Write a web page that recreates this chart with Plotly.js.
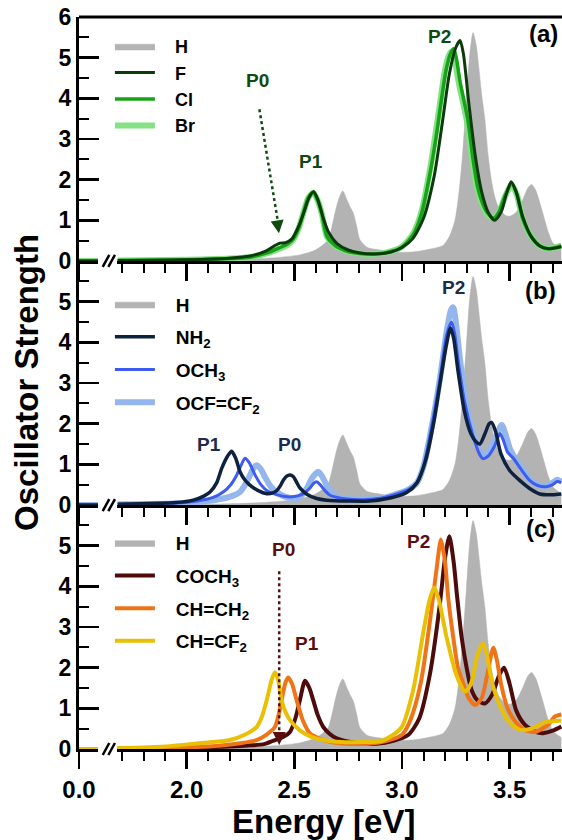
<!DOCTYPE html>
<html><head><meta charset="utf-8">
<script src="https://cdn.plot.ly/plotly-3.0.1.min.js"></script>
<style>html,body{margin:0;padding:0;background:#fff;overflow:hidden}#plot{width:562px;height:840px}</style>
</head><body><div id="plot"></div>
<script>
// ---------- data (energy in eV, oscillator strength) ----------
const hE = [1.68,2.0,2.2,2.35,2.45,2.526,2.59,2.63,2.657,2.675,2.689,2.705,2.725,2.745,2.76,2.774,2.79,2.805,2.84,2.898,2.95,3.05,3.12,3.19,3.22,3.246,3.265,3.282,3.30,3.315,3.33,3.345,3.36,3.37,3.385,3.40,3.415,3.43,3.45,3.48,3.50,3.53,3.56,3.585,3.602,3.62,3.65,3.68,3.70,3.74];
const hS = [0,0.01,0.03,0.06,0.1,0.15,0.25,0.38,0.52,0.85,1.18,1.5,1.72,1.5,1.32,1.18,0.85,0.52,0.33,0.27,0.22,0.22,0.28,0.38,0.6,1.0,1.7,2.67,4.0,5.1,5.62,5.3,4.6,4.1,3.48,2.6,2.0,1.6,1.3,1.12,1.1,1.2,1.5,1.8,1.88,1.75,1.25,0.7,0.45,0.28];

const fE = [1.68,2.0,2.2,2.3,2.37,2.41,2.434,2.46,2.49,2.52,2.545,2.568,2.59,2.61,2.635,2.66,2.70,2.75,2.80,2.87,2.95,3.00,3.05,3.10,3.15,3.19,3.22,3.25,3.27,3.285,3.31,3.34,3.37,3.40,3.43,3.46,3.485,3.507,3.53,3.56,3.60,3.64,3.68,3.74];
const fS = [0.01,0.03,0.07,0.13,0.25,0.38,0.44,0.45,0.55,0.85,1.2,1.55,1.7,1.5,1.05,0.7,0.42,0.27,0.2,0.17,0.22,0.33,0.55,1.05,2.1,3.5,4.6,5.25,5.42,5.1,3.9,2.6,1.7,1.2,1.0,1.2,1.65,1.95,1.7,1.1,0.6,0.37,0.3,0.35];

const clE = [1.68,2.0,2.2,2.3,2.38,2.43,2.47,2.495,2.52,2.542,2.565,2.588,2.608,2.627,2.652,2.69,2.73,2.78,2.85,2.93,3.00,3.053,3.09,3.13,3.16,3.18,3.205,3.225,3.24,3.252,3.27,3.305,3.33,3.35,3.372,3.395,3.425,3.45,3.48,3.509,3.535,3.56,3.60,3.64,3.68,3.74];
const clS = [0.01,0.03,0.06,0.1,0.21,0.32,0.42,0.54,0.8,1.18,1.55,1.69,1.5,1.18,0.6,0.38,0.27,0.2,0.17,0.21,0.34,0.65,1.15,2.15,3.1,3.85,4.7,5.1,5.22,5.0,4.4,3.5,2.5,1.85,1.45,1.2,1.05,1.2,1.62,1.9,1.62,1.05,0.6,0.37,0.3,0.37];

const brE = [1.68,2.0,2.2,2.3,2.38,2.43,2.47,2.495,2.52,2.542,2.565,2.588,2.608,2.627,2.652,2.69,2.73,2.78,2.85,2.93,3.00,3.053,3.09,3.13,3.155,3.176,3.20,3.22,3.232,3.245,3.265,3.30,3.325,3.347,3.37,3.393,3.424,3.45,3.48,3.509,3.535,3.56,3.60,3.64,3.68,3.74];
const brS = [0.01,0.03,0.06,0.1,0.2,0.3,0.4,0.52,0.8,1.18,1.55,1.68,1.5,1.18,0.6,0.38,0.27,0.2,0.17,0.21,0.35,0.68,1.2,2.25,3.1,3.85,4.7,5.08,5.15,4.95,4.35,3.48,2.5,1.83,1.42,1.18,1.05,1.2,1.6,1.88,1.6,1.05,0.6,0.37,0.3,0.38];

const nh2E = [1.68,1.95,2.03,2.08,2.109,2.14,2.163,2.19,2.209,2.228,2.248,2.27,2.294,2.33,2.372,2.40,2.418,2.435,2.449,2.465,2.48,2.495,2.51,2.526,2.56,2.604,2.65,2.75,2.85,2.95,3.02,3.07,3.11,3.15,3.18,3.205,3.225,3.24,3.26,3.29,3.32,3.345,3.362,3.385,3.405,3.416,3.435,3.46,3.50,3.548,3.60,3.64,3.70,3.74];
const nh2S = [0.02,0.06,0.12,0.22,0.32,0.55,0.9,1.2,1.32,1.15,0.82,0.62,0.49,0.36,0.28,0.3,0.35,0.47,0.61,0.71,0.74,0.7,0.57,0.42,0.26,0.16,0.12,0.1,0.1,0.18,0.3,0.55,1.1,2.1,3.1,3.9,4.35,4.1,3.3,2.3,1.75,1.55,1.5,1.75,2.0,2.03,1.8,1.25,0.85,0.6,0.38,0.27,0.25,0.27];

const och3E = [1.68,1.95,2.05,2.12,2.17,2.205,2.233,2.255,2.271,2.29,2.318,2.345,2.372,2.42,2.48,2.52,2.542,2.57,2.59,2.604,2.62,2.645,2.666,2.743,2.82,2.90,2.98,3.03,3.07,3.10,3.13,3.176,3.207,3.23,3.245,3.262,3.29,3.33,3.36,3.377,3.40,3.43,3.455,3.47,3.49,3.517,3.55,3.594,3.63,3.67,3.70,3.72,3.74];
const och3S = [0.02,0.05,0.1,0.18,0.32,0.5,0.74,1.0,1.15,1.05,0.74,0.5,0.36,0.25,0.2,0.23,0.28,0.4,0.53,0.57,0.5,0.34,0.24,0.15,0.13,0.17,0.28,0.38,0.55,0.95,1.7,3.08,4.17,4.5,4.2,3.5,2.55,1.7,1.25,1.14,1.2,1.45,1.76,1.6,1.3,1.15,0.9,0.6,0.48,0.45,0.5,0.58,0.55];

const ocfE = [1.68,1.95,2.05,2.15,2.21,2.248,2.27,2.287,2.31,2.325,2.345,2.364,2.39,2.418,2.46,2.511,2.535,2.557,2.585,2.611,2.63,2.65,2.675,2.697,2.76,2.85,2.92,2.98,3.03,3.07,3.10,3.13,3.176,3.207,3.228,3.238,3.25,3.27,3.30,3.33,3.36,3.377,3.40,3.435,3.463,3.48,3.50,3.517,3.55,3.594,3.63,3.67,3.70,3.72,3.74];
const ocfS = [0.02,0.04,0.07,0.14,0.22,0.32,0.48,0.65,0.9,0.98,0.88,0.69,0.46,0.32,0.2,0.16,0.24,0.4,0.68,0.82,0.7,0.49,0.3,0.2,0.14,0.14,0.18,0.28,0.38,0.55,0.95,1.7,3.1,4.25,4.8,4.86,4.5,3.55,2.45,1.78,1.35,1.22,1.3,1.65,1.97,1.75,1.4,1.22,0.95,0.62,0.5,0.47,0.55,0.62,0.58];

const cochE = [1.68,2.0,2.2,2.30,2.36,2.40,2.45,2.48,2.505,2.526,2.55,2.57,2.588,2.61,2.635,2.665,2.697,2.79,2.88,2.96,3.03,3.08,3.13,3.176,3.20,3.22,3.24,3.255,3.277,3.30,3.323,3.35,3.385,3.42,3.45,3.474,3.50,3.53,3.57,3.62,3.656,3.70,3.74];
const cochS = [0.01,0.03,0.06,0.09,0.12,0.2,0.3,0.42,0.75,1.2,1.68,1.5,1.2,0.82,0.54,0.37,0.26,0.15,0.13,0.2,0.35,0.75,1.85,3.56,4.7,5.23,4.6,3.8,2.75,2.0,1.45,1.2,1.12,1.35,1.8,2.0,1.6,0.95,0.6,0.42,0.39,0.45,0.55];

const chch2E = [1.68,2.0,2.15,2.25,2.325,2.37,2.41,2.43,2.441,2.46,2.472,2.49,2.511,2.54,2.573,2.62,2.666,2.75,2.85,2.93,3.0,3.03,3.052,3.09,3.13,3.16,3.181,3.20,3.215,3.238,3.26,3.285,3.31,3.34,3.37,3.395,3.424,3.44,3.46,3.49,3.53,3.57,3.62,3.68,3.71,3.74];
const chch2S = [0.01,0.04,0.08,0.14,0.22,0.35,0.54,0.9,1.2,1.65,1.76,1.6,1.2,0.7,0.38,0.25,0.18,0.13,0.13,0.2,0.35,0.6,0.9,1.7,3.15,4.4,5.15,4.6,3.7,2.75,2.0,1.6,1.25,1.08,1.25,1.8,2.49,2.2,1.6,1.0,0.65,0.47,0.42,0.6,0.8,0.85];

const chcf2E = [1.68,1.9,2.016,2.1,2.2,2.27,2.325,2.35,2.372,2.395,2.41,2.425,2.441,2.46,2.48,2.526,2.58,2.635,2.72,2.82,2.898,2.96,3.0,3.052,3.1,3.13,3.15,3.17,3.207,3.254,3.293,3.32,3.35,3.375,3.39,3.42,3.46,3.50,3.548,3.60,3.64,3.672,3.70,3.74];
const chcf2S = [0.02,0.06,0.12,0.16,0.22,0.35,0.54,0.8,1.2,1.7,1.89,1.7,1.2,0.9,0.71,0.46,0.3,0.22,0.17,0.17,0.19,0.35,0.55,1.45,2.9,3.7,3.97,3.7,2.75,1.8,1.41,1.6,2.3,2.6,2.4,1.6,1.0,0.65,0.47,0.5,0.6,0.67,0.68,0.7];

// segment left of the axis break (flat baseline)
const leftE = [0.0, 0.2];
const leftS = [0, 0];

const xTickVals = [2.0, 2.5, 3.0, 3.5];
const yTicksTop = [0,1,2,3,4,5,6];
const yTicksLow = [0,1,2,3,4,5];

// ---------- styling ----------
const FONT = 'Liberation Sans, Arial, Helvetica, sans-serif';
const GRAY = '#b3b3b3';
const C = {
  F:'#0b3b0b', Cl:'#17a317', Br:'#84e184',
  NH2:'#0e2240', OCH3:'#3d5cf2', OCF:'#93b7ec',
  COCH3:'#4e0b0b', CHCH2:'#ef7418', CHCF2:'#e9c004'
};
const AN = {a:'#0f4a0f', b:'#1b2c4c', c:'#5a0f0f'};
const PAD = '&nbsp;&nbsp;&nbsp;';

const traces = [];
function addSeries(E, S, name, color, width, xr, xl, ya, leg, rank, isFill) {
  const t = {type:'scatter', mode:'lines', x:E, y:S, name:PAD + name, xaxis:xr, yaxis:ya,
    legend:leg, legendrank:rank, legendgroup:leg + '_' + rank,
    line:{color:color, width:width, shape:'spline', smoothing:0.7}, hoverinfo:'skip'};
  if (isFill) { t.fill = 'tozeroy'; t.fillcolor = color; }
  traces.push(t);
  traces.push({type:'scatter', mode:'lines', x:leftE, y:leftS, xaxis:xl, yaxis:ya,
    showlegend:false, line:{color:color, width:width}, hoverinfo:'skip'});
}
// panel (a)
addSeries(hE, hS, 'H', GRAY, 0.5, 'x', 'x2', 'y', 'legend', 1, true);
addSeries(brE, brS, 'Br', C.Br, 6, 'x', 'x2', 'y', 'legend', 4);
addSeries(clE, clS, 'Cl', C.Cl, 3.5, 'x', 'x2', 'y', 'legend', 3);
addSeries(fE, fS, 'F', C.F, 3, 'x', 'x2', 'y', 'legend', 2);
// panel (b)
addSeries(hE, hS, 'H', GRAY, 0.5, 'x3', 'x4', 'y2', 'legend2', 1, true);
addSeries(ocfE, ocfS, 'OCF=CF<sub>2</sub>', C.OCF, 6, 'x3', 'x4', 'y2', 'legend2', 4);
addSeries(och3E, och3S, 'OCH<sub>3</sub>', C.OCH3, 3, 'x3', 'x4', 'y2', 'legend2', 3);
addSeries(nh2E, nh2S, 'NH<sub>2</sub>', C.NH2, 3.5, 'x3', 'x4', 'y2', 'legend2', 2);
// panel (c)
addSeries(hE, hS, 'H', GRAY, 0.5, 'x5', 'x6', 'y3', 'legend3', 1, true);
addSeries(cochE, cochS, 'COCH<sub>3</sub>', C.COCH3, 4, 'x5', 'x6', 'y3', 'legend3', 2);
addSeries(chch2E, chch2S, 'CH=CH<sub>2</sub>', C.CHCH2, 4, 'x5', 'x6', 'y3', 'legend3', 3);
addSeries(chcf2E, chcf2S, 'CH=CF<sub>2</sub>', C.CHCF2, 4, 'x5', 'x6', 'y3', 'legend3', 4);

const tickFont = {family:FONT, size:24, weight:'bold', color:'#000'};
function xRight(anchor, labels) {
  return {domain:[0.0787,1], range:[1.677,3.743], anchor:anchor, showline:true, linewidth:3, linecolor:'#000',
    ticks:'outside', ticklen:17, tickwidth:2.5, tickcolor:'#000', tickmode:'array', tickvals:xTickVals,
    ticktext:xTickVals.map(v=>v.toFixed(1)), showticklabels:labels, tickfont:tickFont,
    minor:{tickmode:'linear', tick0:0, dtick:0.1, ticks:'outside', ticklen:9, tickwidth:2, tickcolor:'#000'},
    showgrid:false, zeroline:false, fixedrange:true};
}
function xLeft(anchor, labels) {
  return {domain:[0,0.0393], range:[0,0.2], anchor:anchor, showline:true, linewidth:3, linecolor:'#000',
    ticks:'outside', ticklen:17, tickwidth:2.5, tickcolor:'#000', tickmode:'array', tickvals:[0], ticktext:['0.0'],
    showticklabels:labels, tickfont:tickFont, showgrid:false, zeroline:false, fixedrange:true};
}
function yAx(domain, anchor, vals) {
  return {domain:domain, range:[0,6], anchor:anchor, showline:true, linewidth:3, linecolor:'#000',
    ticks:'inside', ticklen:20, tickwidth:2.5, tickcolor:'#000', tickmode:'array', tickvals:vals,
    tickfont:{family:FONT, size:23, weight:'bold', color:'#000'},
    minor:{tickmode:'linear', tick0:0, dtick:0.5, ticks:'inside', ticklen:10, tickwidth:2, tickcolor:'#000'},
    showgrid:false, zeroline:false, fixedrange:true};
}
function leg(y, size, gap) {
  return {x:0.064, y:y, xanchor:'left', yanchor:'top', bgcolor:'rgba(0,0,0,0)',
    font:{family:FONT, size:size, weight:'bold', color:'#000'},
    itemwidth:40, traceorder:'grouped', tracegroupgap:gap};
}

const annFont = (c, s) => ({family:FONT, size:s, weight:'bold', color:c});
function lab(xref, yref, x, y, text, color, size) {
  return {xref:xref, yref:yref, x:x, y:y, text:text, showarrow:false, xanchor:'center', yanchor:'middle',
    font:annFont(color, size)};
}
const annotations = [
  lab('x', 'y', 2.33, 4.44, 'P0', AN.a, 19),
  lab('x', 'y', 2.578, 2.44, 'P1', AN.a, 19),
  lab('x', 'y', 3.174, 5.52, 'P2', AN.a, 19),
  lab('paper', 'paper', 0.9627, 0.9775, '(a)', '#000', 24),
  lab('x3', 'y2', 2.105, 1.48, 'P1', AN.b, 19),
  lab('x3', 'y2', 2.48, 1.48, 'P0', AN.b, 19),
  lab('x3', 'y2', 3.239, 5.36, 'P2', AN.b, 19),
  lab('paper', 'paper', 0.9565, 0.6264, '(b)', '#000', 24),
  lab('x5', 'y3', 2.448, 4.9, 'P0', AN.c, 19),
  lab('x5', 'y3', 2.561, 2.6, 'P1', AN.c, 19),
  lab('x5', 'y3', 3.077, 5.1, 'P2', AN.c, 19),
  lab('paper', 'paper', 0.9565, 0.3019, '(c)', '#000', 24),
  // arrow heads
  {xref:'x', yref:'y', x:2.429, y:0.68, ax:-2, ay:-14, text:'', showarrow:true, arrowhead:2, arrowsize:1.3, arrowwidth:2, arrowcolor:AN.a},
  {xref:'x5', yref:'y3', x:2.43, y:0.1, ax:0, ay:-14, text:'', showarrow:true, arrowhead:2, arrowsize:1.3, arrowwidth:2, arrowcolor:AN.c},
  // axis titles
  {xref:'paper', yref:'paper', x:-0.1077, y:0.5014, text:'Oscillator Strength', textangle:-90, showarrow:false,
   xanchor:'center', yanchor:'middle', font:annFont('#000',33)},
  {xref:'paper', yref:'paper', x:0.507, y:-0.0997, text:'Energy [eV]', showarrow:false,
   xanchor:'center', yanchor:'middle', font:annFont('#000',33)}
];

const shapes = [
  {type:'line', xref:'paper', yref:'paper', x0:0, x1:1, y0:1, y1:1, line:{color:'#000', width:3}},
  {type:'line', xref:'x', yref:'y', x0:2.338, y0:3.73, x1:2.426, y1:0.9, line:{color:AN.a, width:2.5, dash:'dot'}},
  {type:'line', xref:'x5', yref:'y3', x0:2.43, y0:4.37, x1:2.43, y1:0.3, line:{color:AN.c, width:2.5, dash:'dot'}}
];
[0.6667, 0.3333, 0].forEach(yb => {
  [0.0559, 0.0676].forEach(xa => {
    shapes.push({type:'line', xref:'paper', yref:'paper', xsizemode:'pixel', ysizemode:'pixel',
      xanchor:xa, yanchor:yb, x0:-3.3, y0:-6, x1:3.3, y1:6, line:{color:'#000', width:2.5}});
  });
});

const layout = {
  width:562, height:840, margin:{l:79, r:0, t:17, b:91},
  paper_bgcolor:'#fff', plot_bgcolor:'rgba(0,0,0,0)', font:{family:FONT},
  xaxis:xRight('y', false), xaxis2:xLeft('y', false),
  xaxis3:xRight('y2', false), xaxis4:xLeft('y2', false),
  xaxis5:xRight('y3', true), xaxis6:xLeft('y3', true),
  yaxis:yAx([0.6667,1], 'x2', yTicksTop),
  yaxis2:yAx([0.3333,0.6667], 'x4', yTicksLow),
  yaxis3:yAx([0,0.3333], 'x6', yTicksLow),
  legend:leg(0.985, 18, 0), legend2:leg(0.6335, 19, 5), legend3:leg(0.3075, 19, 5),
  annotations:annotations, shapes:shapes
};
Plotly.newPlot('plot', traces, layout, {staticPlot:true, displayModeBar:false});
</script></body></html>
